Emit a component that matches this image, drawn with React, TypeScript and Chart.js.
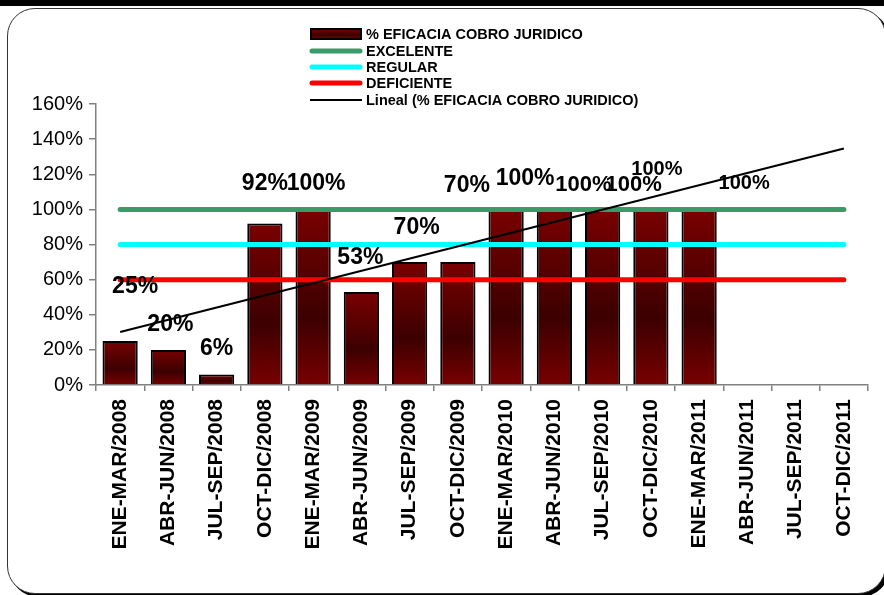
import React, { useEffect, useRef } from "react";
import { Chart, registerables } from "chart.js";

Chart.register(...registerables);

const CATEGORIES = [
  "ENE-MAR/2008", "ABR-JUN/2008", "JUL-SEP/2008", "OCT-DIC/2008",
  "ENE-MAR/2009", "ABR-JUN/2009", "JUL-SEP/2009", "OCT-DIC/2009",
  "ENE-MAR/2010", "ABR-JUN/2010", "JUL-SEP/2010", "OCT-DIC/2010",
  "ENE-MAR/2011", "ABR-JUN/2011", "JUL-SEP/2011", "OCT-DIC/2011",
];
const EFICACIA = [25, 20, 6, 92, 100, 53, 70, 70, 100, 100, 100, 100, 100, null, null, null];
const EXCELENTE = [100, 100, 100, 100, 100, 100, 100, 100, 100, 100, 100, 100, 100, 100, 100, 100];
const REGULAR = [80, 80, 80, 80, 80, 80, 80, 80, 80, 80, 80, 80, 80, 80, 80, 80];
const DEFICIENTE = [60, 60, 60, 60, 60, 60, 60, 60, 60, 60, 60, 60, 60, 60, 60, 60];
// Linear trendline (Excel), read at first and last category
const TREND = [30.2, null, null, null, null, null, null, null, null, null, null, null, null, null, null, 134.7];
const Y_TICKS_MAX = 160;
const Y_STEP = 20;

const SERIES_NAMES = [
  "% EFICACIA COBRO JURIDICO",
  "EXCELENTE",
  "REGULAR",
  "DEFICIENTE",
  "Lineal (% EFICACIA COBRO JURIDICO)",
];

// label placement (px offsets from each bar's top centre), as in the source image
const LABEL_OFFSETS: [number, number][] = [
  [15, -54], [2, -25], [0, -26], [0, -40], [3, -26], [-1, -34], [7, -34],
  [9, -76], [19, -31], [29, -24], [31, -24], [6, -40], [45, -26],
];
const LABEL_SIZES = [23, 23, 23, 23, 23, 23, 23, 23, 23, 22, 22, 20, 20];

const FONT = "'Liberation Sans', Arial, sans-serif";

function barGradient(c: CanvasRenderingContext2D, top: number, base: number) {
  const g = c.createLinearGradient(0, top, 0, base);
  g.addColorStop(0, "#7a0000");
  g.addColorStop(0.62, "#3c0000");
  g.addColorStop(1, "#780000");
  return g;
}

const labelPlugin = {
  id: "barLabels",
  afterDatasetsDraw(chart: any) {
    const c = chart.ctx as CanvasRenderingContext2D;
    const meta = chart.getDatasetMeta(0);
    c.save();
    c.fillStyle = "#000";
    c.textAlign = "center";
    c.textBaseline = "middle";
    meta.data.forEach((el: any, i: number) => {
      const v = EFICACIA[i];
      if (v == null || !LABEL_OFFSETS[i]) return;
      const [dx, dy] = LABEL_OFFSETS[i];
      c.font = `bold ${LABEL_SIZES[i]}px ${FONT}`;
      c.fillText(`${v}%`, el.x + dx, el.y + dy);
    });
    c.restore();
  },
};

const legendPlugin = {
  id: "stackLegend",
  afterDraw(chart: any) {
    const c = chart.ctx as CanvasRenderingContext2D;
    const x0 = 310;
    const x1 = 362;
    const tx = 366;
    const rows = [34, 51, 67, 83, 100];
    c.save();
    c.font = `bold 14.5px ${FONT}`;
    c.textBaseline = "middle";
    c.textAlign = "left";
    rows.forEach((yc, i) => {
      if (i === 0) {
        c.fillStyle = barGradient(c, yc - 5, yc + 5);
        c.fillRect(x0 + 1, yc - 5, x1 - x0 - 2, 10);
        c.lineWidth = 2;
        c.strokeStyle = "#000";
        c.strokeRect(x0 + 1, yc - 5, x1 - x0 - 2, 10);
      } else {
        const ds = chart.data.datasets[i];
        c.beginPath();
        c.strokeStyle = ds.borderColor;
        c.lineWidth = ds.borderWidth;
        c.lineCap = i === 4 ? "butt" : "round";
        c.moveTo(x0 + (i === 4 ? 0 : 2), yc);
        c.lineTo(x1 - (i === 4 ? 0 : 2), yc);
        c.stroke();
      }
      c.fillStyle = "#000";
      c.fillText(SERIES_NAMES[i], tx, yc + 1);
    });
    c.restore();
  },
};

export default function App() {
  const ref = useRef<HTMLCanvasElement | null>(null);

  useEffect(() => {
    if (!ref.current) return;
    const chart = new Chart(ref.current, {
      type: "bar",
      data: {
        labels: CATEGORIES,
        datasets: [
          {
            type: "bar",
            label: SERIES_NAMES[0],
            data: EFICACIA as any,
            order: 10,
            borderColor: "#000",
            borderWidth: 2,
            barPercentage: 0.73,
            categoryPercentage: 1,
            backgroundColor: (ctx: any) => {
              const ch = ctx.chart;
              const y = ch.scales && ch.scales.y;
              const v = ctx.raw;
              if (!y || v == null) return "#5a0000";
              const top = y.getPixelForValue(v);
              const base = y.getPixelForValue(0);
              if (!isFinite(top) || !isFinite(base) || top === base) return "#5a0000";
              return barGradient(ch.ctx, top, base);
            },
          } as any,
          {
            type: "line",
            label: SERIES_NAMES[1],
            data: EXCELENTE,
            order: 4,
            borderColor: "#3a9a68",
            borderWidth: 5,
            borderCapStyle: "round",
            pointRadius: 0,
            fill: false,
          } as any,
          {
            type: "line",
            label: SERIES_NAMES[2],
            data: REGULAR,
            order: 3,
            borderColor: "#00ffff",
            borderWidth: 5,
            borderCapStyle: "round",
            pointRadius: 0,
            fill: false,
          } as any,
          {
            type: "line",
            label: SERIES_NAMES[3],
            data: DEFICIENTE,
            order: 2,
            borderColor: "#ff0000",
            borderWidth: 5,
            borderCapStyle: "round",
            pointRadius: 0,
            fill: false,
          } as any,
          {
            type: "line",
            label: SERIES_NAMES[4],
            data: TREND as any,
            order: 1,
            borderColor: "#000",
            borderWidth: 2,
            pointRadius: 0,
            spanGaps: true,
            fill: false,
          } as any,
        ],
      },
      options: {
        responsive: false,
        animation: false,
        devicePixelRatio: 1,
        layout: { padding: { left: 0, right: 16, top: 104, bottom: 0 } },
        plugins: {
          legend: { display: false },
          tooltip: { enabled: false },
          title: { display: false },
        },
        scales: {
          x: {
            offset: true,
            grid: {
              display: true,
              drawOnChartArea: false,
              drawTicks: true,
              tickLength: 6,
              color: "#808080",
              lineWidth: 1.5,
              offset: true,
            },
            border: { display: true, color: "#808080", width: 1.5 },
            ticks: {
              autoSkip: false,
              maxRotation: 90,
              minRotation: 90,
              padding: 8,
              color: "#000",
              font: { family: FONT, size: 21, weight: "bold" },
            },
            afterFit: (s: any) => {
              s.height = 210;
            },
          },
          y: {
            min: 0,
            max: Y_TICKS_MAX,
            grid: {
              display: true,
              drawOnChartArea: false,
              drawTicks: true,
              tickLength: 7,
              color: "#808080",
              lineWidth: 1.5,
            },
            border: { display: true, color: "#808080", width: 1.5 },
            ticks: {
              stepSize: Y_STEP,
              padding: 6,
              color: "#000",
              font: { family: FONT, size: 20 },
              callback: (v: any) => `${v}%`,
            },
            afterFit: (s: any) => {
              s.width = 96;
            },
          },
        },
      },
      plugins: [labelPlugin, legendPlugin],
    });
    return () => chart.destroy();
  }, []);

  return (
    <div
      style={{
        position: "fixed",
        left: 0,
        top: 0,
        width: 884,
        height: 595,
        overflow: "hidden",
        background: "#fff",
      }}
    >
      <div style={{ position: "absolute", left: 0, top: 0, width: 884, height: 6, background: "#000" }} />
      <div
        style={{
          position: "absolute",
          left: 7,
          top: 8,
          width: 877,
          height: 584,
          border: "1.5px solid #333",
          borderRadius: 28,
          boxShadow: "3px 3px 0 #000",
          background: "#fff",
        }}
      />
      <canvas
        ref={ref}
        width={884}
        height={595}
        style={{ position: "absolute", left: 0, top: 0, width: 884, height: 595 }}
      />
    </div>
  );
}
